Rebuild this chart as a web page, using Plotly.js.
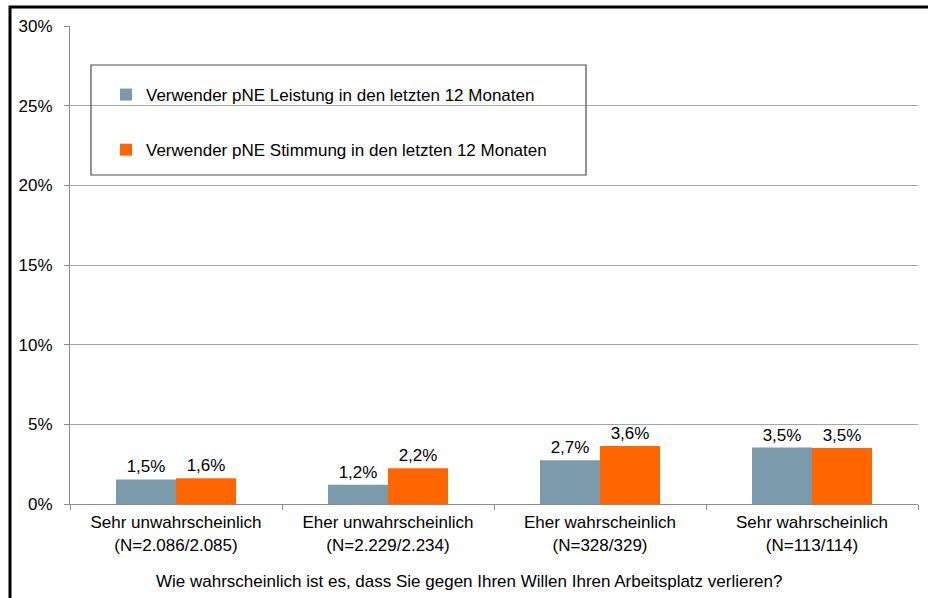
<!DOCTYPE html>
<html>
<head>
<meta charset="utf-8">
<script src="https://cdn.plot.ly/plotly-3.0.1.min.js"></script>
<style>html,body{margin:0;padding:0;background:#fff;}#chart{width:928px;height:598px;}</style>
</head>
<body>
<div id="chart"></div>
<script>
const categories = [
  "Sehr unwahrscheinlich<br>(N=2.086/2.085)",
  "Eher unwahrscheinlich<br>(N=2.229/2.234)",
  "Eher wahrscheinlich<br>(N=328/329)",
  "Sehr wahrscheinlich<br>(N=113/114)"
];
const seriesNames = [
  "Verwender pNE Leistung in den letzten 12 Monaten",
  "Verwender pNE Stimmung in den letzten 12 Monaten"
];
const leistung = [1.54, 1.21, 2.74, 3.54];
const stimmung = [1.62, 2.24, 3.64, 3.52];
const yTickVals = [0, 5, 10, 15, 20, 25, 30];
const yTickText = ["0%", "5%", "10%", "15%", "20%", "25%", "30%"];
const xAxisTitle = "Wie wahrscheinlich ist es, dass Sie gegen Ihren Willen Ihren Arbeitsplatz verlieren?";

const FONT = "Liberation Sans, Arial, sans-serif";

const traces = [
  {type: "bar", x: categories, y: leistung, name: seriesNames[0], legendgroup: "a",
   marker: {color: "#7b9aab"}, texttemplate: "%{y:.1f}%", textposition: "outside",
   textfont: {size: 17, color: "#000", family: FONT}, cliponaxis: false, hoverinfo: "skip"},
  {type: "bar", x: categories, y: stimmung, name: seriesNames[1], legendgroup: "b",
   marker: {color: "#ff6600"}, texttemplate: "%{y:.1f}%", textposition: "outside",
   textfont: {size: 17, color: "#000", family: FONT}, cliponaxis: false, hoverinfo: "skip"}
];

const L = 70, R = 918, T = 26, B = 504;
const px = v => (v - L) / (R - L);
const py = v => (B - v) / (B - T);

const layout = {
  width: 928, height: 598,
  margin: {l: L, r: 928 - R, t: T, b: 598 - B},
  paper_bgcolor: "#fff", plot_bgcolor: "#fff",
  font: {family: FONT, size: 17, color: "#000"},
  separators: ",.",
  barmode: "group", bargap: 0.434, bargroupgap: 0,
  showlegend: true,
  legend: {x: px(106), xanchor: "left", y: py(77), yanchor: "top",
           bgcolor: "rgba(0,0,0,0)", borderwidth: 0, traceorder: "grouped",
           tracegroupgap: 30, font: {size: 17, family: FONT, color: "#000"}},
  xaxis: {type: "category", showgrid: false, showline: true, linecolor: "#8c8c8c", linewidth: 1,
          ticks: "outside", tickson: "boundaries", ticklen: 5, tickcolor: "#8c8c8c",
          ticklabelstandoff: 3, tickfont: {size: 17}, zeroline: false, fixedrange: true},
  yaxis: {range: [0, 30], tickmode: "array", tickvals: yTickVals, ticktext: yTickText,
          showgrid: true, gridcolor: "#a6a6a6",
          showline: true, linecolor: "#8c8c8c", ticks: "outside", ticklen: 5, tickcolor: "#8c8c8c",
          ticklabelstandoff: 8, tickfont: {size: 17}, zeroline: false, fixedrange: true},
  shapes: [
    {type: "path", xref: "paper", yref: "paper",
     path: `M ${px(10)} ${py(640)} L ${px(10)} ${py(7)} L ${px(960)} ${py(7)}`,
     line: {color: "#000", width: 3}},
    {type: "rect", xref: "paper", yref: "paper", x0: px(91), x1: px(586), y0: py(175), y1: py(65),
     line: {color: "#4d4d4d", width: 1.2}, fillcolor: "rgba(0,0,0,0)"}
  ],
  annotations: [
    {text: xAxisTitle, xref: "paper", yref: "paper", x: px(469), y: py(581), xanchor: "center", yanchor: "middle",
     showarrow: false, font: {size: 17, family: FONT, color: "#000"}}
  ]
};

Plotly.newPlot("chart", traces, layout, {displayModeBar: false, staticPlot: true});
</script>
</body>
</html>
